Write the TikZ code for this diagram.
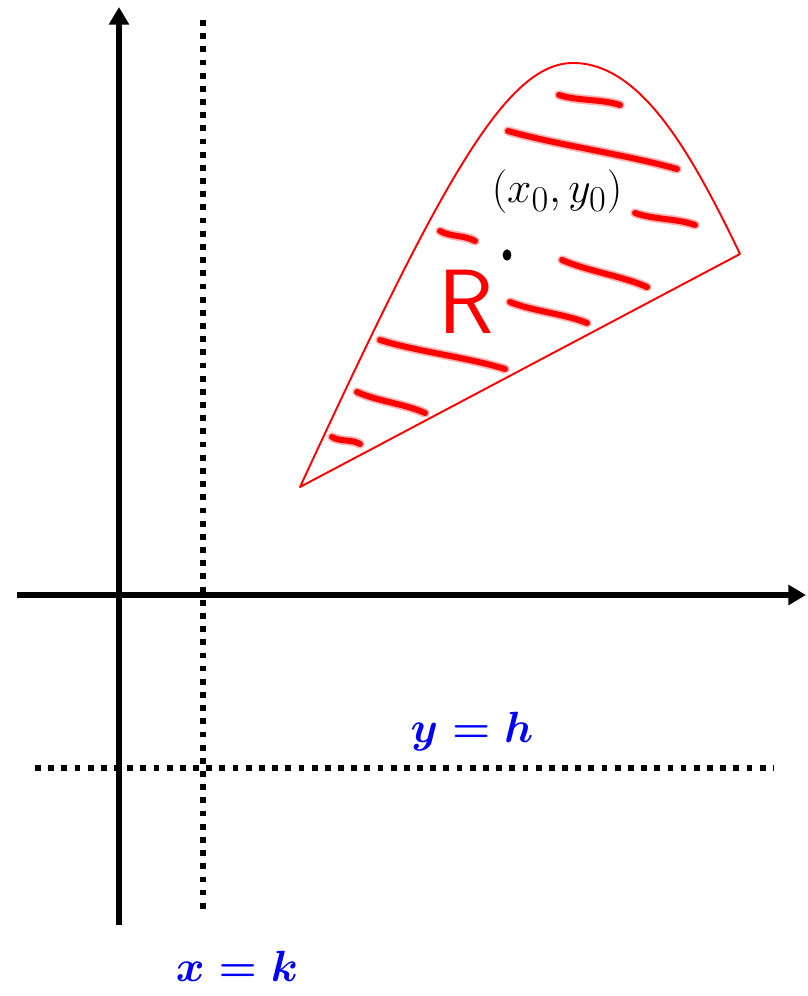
\documentclass[tikz,border=0pt]{standalone}
\usepackage{fontspec}
\usetikzlibrary{arrows.meta, shapes.geometric}

\begin{document}
\begin{tikzpicture}[
    x=0.02cm, y=-0.02cm,
    axis/.style={line width=3.4pt, -{Triangle[length=10pt, width=11pt]}},
    dotline/.style={line width=3.1pt, dash pattern=on 3.3pt off 4.2pt},
    region/.style={draw=red, line width=1.1pt, line join=round},
    hatch/.style={red, line width=3.4pt, line cap=round,
                  preaction={draw, red!30, line width=5.4pt, line cap=round}},
    lbl/.style={text=blue, font=\fontsize{40}{40}\selectfont\boldmath},
    pt/.style={ellipse, fill=black, inner sep=0pt, minimum width=5pt, minimum height=6.5pt}
]
\useasboundingbox (0,0) rectangle (807,996);

% ============================================================
% AXES
% ============================================================
\coordinate (ybot) at (119,925);
\coordinate (ytop) at (119,7);
\coordinate (xlft) at (17,595);
\coordinate (xrgt) at (806,595);
\draw[axis] (ybot) -- (ytop);
\draw[axis] (xlft) -- (xrgt);

% ============================================================
% DOTTED LINES  x=k, y=h
% ============================================================
\coordinate (ktop) at (203,20);
\coordinate (kbot) at (203,915);
\coordinate (hlft) at (35,768);
\coordinate (hrgt) at (774,768);
\draw[dotline] (ktop) -- (kbot);
\draw[dotline] (hlft) -- (hrgt);

\node[lbl] (ylab) at (472,732) {$y=h$};
\node[lbl] (xlab) at (237,966) {$x=k$};

% ============================================================
% REGION R
% ============================================================
\coordinate (rA) at (300,487);
\coordinate (rB) at (573,63);
\coordinate (rC) at (740,254);
\draw[region] (rA) .. controls (440,185) and (505,63) .. (rB)
                   .. controls (640,63) and (690,150) .. (rC) -- cycle;

% hatching
\foreach \ax/\ay/\bx/\by in {559/95/620/105, 508/131/677/169, 635/213/695/225,
                            440/231/475/241, 562/260/647/287, 510/302/587/323,
                            380/340/505/369, 357/392/425/413, 332/437/360/444} {
    \draw[hatch] (\ax,\ay) .. controls ({\ax+0.3*(\bx-\ax)},{\ay+0.3*(\by-\ay)+3})
                 and ({\ax+0.7*(\bx-\ax)},{\ay+0.7*(\by-\ay)-3}) .. (\bx,\by);
}

\node[text=red, font=\sffamily\fontsize{52}{52}\selectfont] (rlab) at (466,302) {R};
\node[pt] (p0) at (507,255) {};
\node[font=\fontsize{31}{31}\selectfont] (p0lab) at (557,192) {$(x_0,y_0)$};

\end{tikzpicture}
\end{document}
